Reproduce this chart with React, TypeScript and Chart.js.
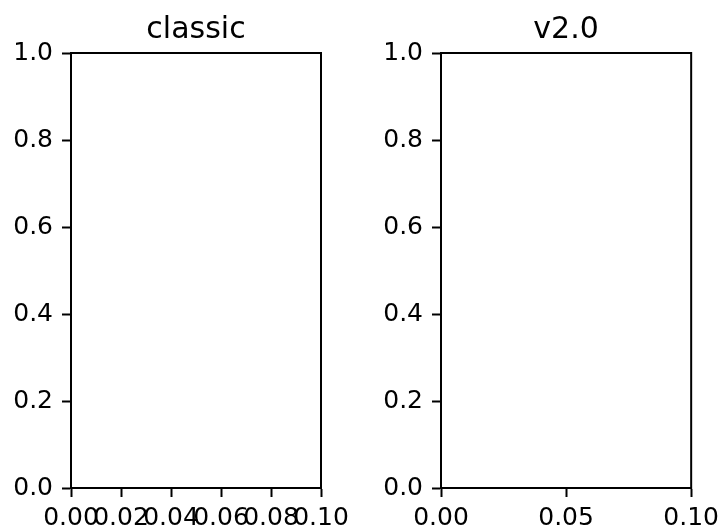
import React, { useEffect, useRef } from "react";
import { Chart, registerables } from "chart.js";

Chart.register(...registerables);

const yTicks = [0, 0.2, 0.4, 0.6, 0.8, 1.0];
const xTicksClassic = [0, 0.02, 0.04, 0.06, 0.08, 0.1];
const xTicksV2 = [0, 0.05, 0.1];
const titles = ["classic", "v2.0"];
const emptySeries: { x: number; y: number }[] = [];

const FONT = "'DejaVu Sans', sans-serif";

const frame = {
  id: "frame",
  afterDraw(chart: any) {
    const { ctx, chartArea } = chart;
    ctx.save();
    ctx.strokeStyle = "#000";
    ctx.lineWidth = 2;
    ctx.strokeRect(chartArea.left, chartArea.top, chartArea.right - chartArea.left, chartArea.bottom - chartArea.top);
    ctx.restore();
  },
};

function Panel(props: { title: string; xTicks: number[]; dec: number; left: number; width: number; padRight: number }) {
  const ref = useRef<HTMLCanvasElement>(null);
  useEffect(() => {
    const c = ref.current!;
    const gridOpts = {
      display: true,
      drawOnChartArea: false,
      drawTicks: true,
      tickLength: 9,
      tickColor: "#000",
      tickWidth: 2,
      color: "rgba(0,0,0,0)",
    };
    const chart = new Chart(c, {
      type: "scatter",
      data: { datasets: [{ data: emptySeries }] },
      options: {
        responsive: false,
        animation: false,
        layout: { padding: { left: 0, right: props.padRight, top: 0, bottom: 0 } },
        plugins: {
          legend: { display: false },
          tooltip: { enabled: false },
          title: {
            display: true,
            text: props.title,
            color: "#000",
            fullSize: false,
            font: { family: FONT, size: 30, weight: "normal", lineHeight: 1.2 },
            padding: { top: 12, bottom: 5 },
          },
        },
        scales: {
          x: {
            type: "linear",
            min: props.xTicks[0],
            max: props.xTicks[props.xTicks.length - 1],
            afterBuildTicks: (s: any) => {
              s.ticks = props.xTicks.map((v) => ({ value: v }));
            },
            afterFit: (s: any) => {
              s.height = 41;
            },
            grid: gridOpts as any,
            border: { display: true, color: "#000", width: 2 },
            ticks: {
              autoSkip: false,
              maxRotation: 0,
              minRotation: 0,
              padding: 6,
              color: "#000",
              font: { family: FONT, size: 25 },
              callback: (v: any) => Number(v).toFixed(props.dec),
            },
          },
          y: {
            type: "linear",
            min: 0,
            max: 1,
            afterBuildTicks: (s: any) => {
              s.ticks = yTicks.map((v) => ({ value: v }));
            },
            afterFit: (s: any) => {
              s.width = 71;
            },
            grid: gridOpts as any,
            border: { display: true, color: "#000", width: 2 },
            ticks: {
              autoSkip: false,
              padding: 9,
              color: "#000",
              font: { family: FONT, size: 25 },
              callback: (v: any) => Number(v).toFixed(1),
            },
          },
        },
      } as any,
      plugins: [frame],
    });
    return () => chart.destroy();
  }, []);
  return (
    <canvas
      ref={ref}
      width={props.width}
      height={529}
      style={{ position: "absolute", left: props.left, top: 0, width: props.width, height: 529 }}
    />
  );
}

export default function App() {
  return (
    <div style={{ position: "fixed", left: 0, top: 0, width: 722, height: 529, background: "#fff", overflow: "hidden" }}>
      <Panel title={titles[0]} xTicks={xTicksClassic} dec={2} left={0} width={361} padRight={40} />
      <Panel title={titles[1]} xTicks={xTicksV2} dec={2} left={370} width={355} padRight={31} />
    </div>
  );
}
